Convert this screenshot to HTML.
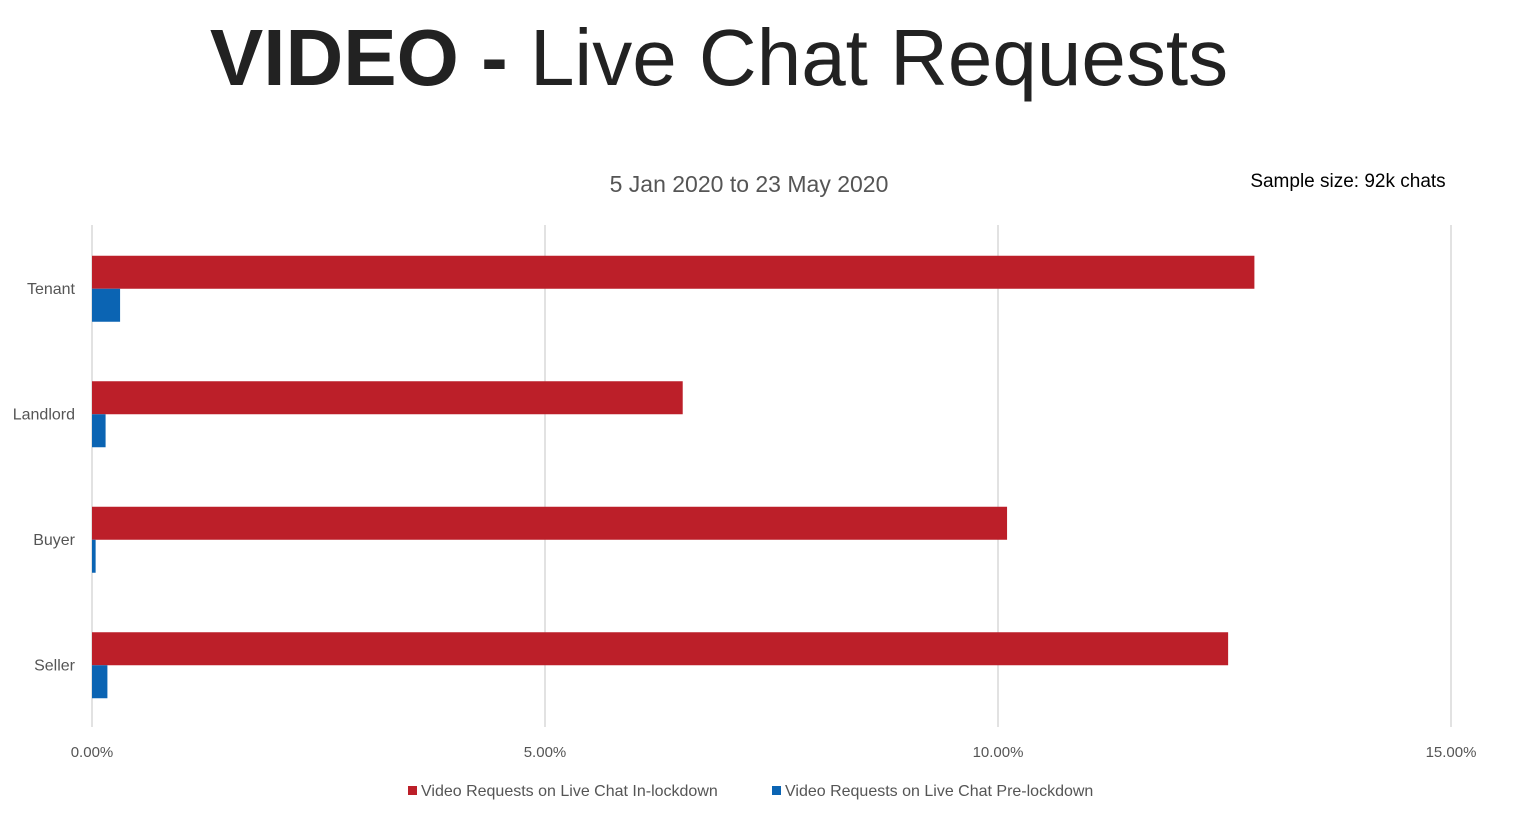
<!DOCTYPE html>
<html><head><meta charset="utf-8"><style>
body{margin:0;background:#fff;width:1517px;height:826px;overflow:hidden;font-family:"Liberation Sans",sans-serif;}
</style></head><body>
<svg width="1517" height="826" xmlns="http://www.w3.org/2000/svg">
<text x="719" y="85" text-anchor="middle" font-size="80" fill="#222"><tspan font-weight="bold">VIDEO - </tspan>Live Chat Requests</text>
<text x="749" y="192" text-anchor="middle" font-size="23" fill="#555">5 Jan 2020 to 23 May 2020</text>
<text x="1348" y="187" text-anchor="middle" font-size="19" fill="#000">Sample size: 92k chats</text>
<g id="grid"></g><g id="bars"></g><g id="labels"></g>
<g>
<rect x="408" y="786" width="9" height="9" fill="#BC1F29"/>
<text x="421" y="796" font-size="16" fill="#555">Video Requests on Live Chat In-lockdown</text>
<rect x="772" y="786" width="9" height="9" fill="#0B64B3"/>
<text x="785" y="796" font-size="16" fill="#555">Video Requests on Live Chat Pre-lockdown</text>
</g>
</svg>
<script>
const categories=["Tenant","Landlord","Buyer","Seller"];
const inLockdown=[12.83,6.52,10.10,12.54];
const preLockdown=[0.31,0.15,0.04,0.17];
const ticks=[0,5,10,15];
const tickLabels=["0.00%","5.00%","10.00%","15.00%"];
const NS="http://www.w3.org/2000/svg";
const x0=92,pxPer=90.6,plotTop=225,plotBottom=727;
const band=(plotBottom-plotTop)/categories.length;
const xs=v=>x0+v*pxPer;
function mk(t,a,p){const e=document.createElementNS(NS,t);for(const k in a)e.setAttribute(k,a[k]);p.appendChild(e);return e;}
const g=document.getElementById('grid'),b=document.getElementById('bars'),l=document.getElementById('labels');
ticks.forEach((t,i)=>{
const ln=mk('line',{x1:xs(t),x2:xs(t),y1:plotTop,y2:plotBottom,stroke:'#d9d9d9','stroke-width':1.5},g);


const tx=mk('text',{x:xs(t),y:757,'text-anchor':'middle','font-size':15,fill:'#555'},l);
tx.textContent=tickLabels[i];


});
categories.forEach((c,i)=>{
const cy=plotTop+band*(i+0.5)+1;
const r1=mk('rect',{x:x0,y:cy-33,width:xs(inLockdown[i])-x0,height:33,fill:'#BC1F29'},b);


const r2=mk('rect',{x:x0,y:cy,width:xs(preLockdown[i])-x0,height:33,fill:'#0B64B3'},b);


const tx=mk('text',{x:75,y:cy+5,'text-anchor':'end','font-size':16,fill:'#555'},l);
tx.textContent=c;


});
</script>
</body></html>
